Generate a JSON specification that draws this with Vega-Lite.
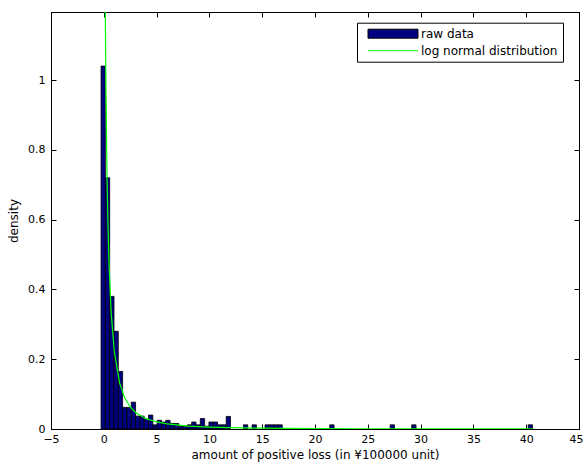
{
  "$schema": "https://vega.github.io/schema/vega-lite/v6.json",
  "width": 528,
  "height": 417,
  "autosize": "none",
  "padding": {"left": 51, "top": 12, "right": 5, "bottom": 38},
  "background": "white",
  "config": {
    "font": "DejaVu Sans",
    "view": {"stroke": "black", "strokeWidth": 1},
    "axis": {
      "grid": false,
      "domainColor": "black",
      "tickColor": "black",
      "tickSize": -5,
      "labelColor": "black",
      "labelFontSize": 11,
      "titleFontSize": 12,
      "titleFontWeight": "normal",
      "titleColor": "black",
      "labelFont": "DejaVu Sans",
      "titleFont": "DejaVu Sans"
    },
    "legend": {
      "orient": "none",
      "legendX": 306,
      "legendY": 10.7,
      "direction": "vertical",
      "padding": 5,
      "strokeColor": "black",
      "fillColor": "white",
      "rowPadding": 4,
      "symbolSize": 100,
      "symbolStrokeWidth": 1,
      "symbolOpacity": 1,
      "labelOffset": 47,
      "labelFontSize": 12,
      "labelColor": "black",
      "labelFont": "DejaVu Sans"
    }
  },
  "datasets": {
    "hist": [
      {"lo": -0.260, "hi": 0.149, "density": 1.04},
      {"lo": 0.149, "hi": 0.557, "density": 0.72},
      {"lo": 0.557, "hi": 0.966, "density": 0.38},
      {"lo": 0.966, "hi": 1.374, "density": 0.28},
      {"lo": 1.374, "hi": 1.783, "density": 0.165},
      {"lo": 1.783, "hi": 2.192, "density": 0.062},
      {"lo": 2.192, "hi": 2.600, "density": 0.062},
      {"lo": 2.600, "hi": 3.009, "density": 0.077},
      {"lo": 3.009, "hi": 3.418, "density": 0.037},
      {"lo": 3.418, "hi": 3.826, "density": 0.037},
      {"lo": 3.826, "hi": 4.235, "density": 0.028},
      {"lo": 4.235, "hi": 4.643, "density": 0.040},
      {"lo": 4.643, "hi": 5.052, "density": 0.012},
      {"lo": 5.052, "hi": 5.461, "density": 0.025},
      {"lo": 5.461, "hi": 5.869, "density": 0.020},
      {"lo": 5.869, "hi": 6.278, "density": 0.025},
      {"lo": 6.278, "hi": 6.686, "density": 0.016},
      {"lo": 6.686, "hi": 7.095, "density": 0.016},
      {"lo": 7.095, "hi": 7.504, "density": 0.008},
      {"lo": 7.504, "hi": 7.912, "density": 0.008},
      {"lo": 7.912, "hi": 8.321, "density": 0.012},
      {"lo": 8.321, "hi": 8.730, "density": 0.020},
      {"lo": 8.730, "hi": 9.138, "density": 0.012},
      {"lo": 9.138, "hi": 9.547, "density": 0.030},
      {"lo": 9.547, "hi": 9.955, "density": 0.008},
      {"lo": 9.955, "hi": 10.364, "density": 0.020},
      {"lo": 10.364, "hi": 10.773, "density": 0.020},
      {"lo": 10.773, "hi": 11.181, "density": 0.012},
      {"lo": 11.181, "hi": 11.590, "density": 0.012},
      {"lo": 11.590, "hi": 11.998, "density": 0.036},
      {"lo": 13.224, "hi": 13.633, "density": 0.012},
      {"lo": 14.041, "hi": 14.450, "density": 0.012},
      {"lo": 15.267, "hi": 15.675, "density": 0.012},
      {"lo": 15.675, "hi": 16.084, "density": 0.012},
      {"lo": 16.084, "hi": 16.493, "density": 0.012},
      {"lo": 16.493, "hi": 16.901, "density": 0.012},
      {"lo": 21.396, "hi": 21.804, "density": 0.012},
      {"lo": 27.116, "hi": 27.525, "density": 0.012},
      {"lo": 29.159, "hi": 29.568, "density": 0.012},
      {"lo": 40.191, "hi": 40.600, "density": 0.012}
    ],
    "fit": [
      {"x": 0.01, "pdf": 1.463},
      {"x": 0.02, "pdf": 1.759},
      {"x": 0.03, "pdf": 1.813},
      {"x": 0.05, "pdf": 1.738},
      {"x": 0.08, "pdf": 1.544},
      {"x": 0.1, "pdf": 1.421},
      {"x": 0.15, "pdf": 1.169},
      {"x": 0.2, "pdf": 0.984},
      {"x": 0.3, "pdf": 0.734},
      {"x": 0.4, "pdf": 0.577},
      {"x": 0.5, "pdf": 0.469},
      {"x": 0.7, "pdf": 0.332},
      {"x": 1.0, "pdf": 0.2205},
      {"x": 1.5, "pdf": 0.1314},
      {"x": 2.0, "pdf": 0.0879},
      {"x": 2.5, "pdf": 0.0631},
      {"x": 3.0, "pdf": 0.0475},
      {"x": 4.0, "pdf": 0.0296},
      {"x": 5.0, "pdf": 0.0202},
      {"x": 6.0, "pdf": 0.0145},
      {"x": 8.0, "pdf": 0.0085},
      {"x": 10.0, "pdf": 0.0055},
      {"x": 12.0, "pdf": 0.0038},
      {"x": 15.0, "pdf": 0.0024},
      {"x": 20.0, "pdf": 0.00125},
      {"x": 25.0, "pdf": 0.00075},
      {"x": 30.0, "pdf": 0.00049},
      {"x": 35.0, "pdf": 0.00034},
      {"x": 40.6, "pdf": 0.00023}
    ],
    "key": [
      {"series": "raw data"},
      {"series": "log normal distribution"}
    ]
  },
  "resolve": {"axis": {"x": "independent", "y": "independent"}},
  "layer": [
    {
      "data": {"name": "hist"},
      "mark": {"type": "bar", "fill": "#000080", "stroke": "black", "strokeWidth": 0.8, "clip": true},
      "encoding": {
        "x": {
          "field": "lo", "type": "quantitative",
          "scale": {"domain": [-5, 45], "nice": false, "zero": false},
          "axis": {
            "orient": "bottom",
            "values": [-5, 0, 5, 10, 15, 20, 25, 30, 35, 40, 45],
            "labelPadding": 9,
            "labelFlush": false,
            "labelOffset": {"condition": {"test": "datum.value === 45", "value": -3}, "value": 0},
            "title": "amount of positive loss (in ¥100000 unit)",
            "titlePadding": 5
          }
        },
        "x2": {"field": "hi"},
        "y": {
          "field": "density", "type": "quantitative",
          "scale": {"domain": [0, 1.195], "nice": false},
          "axis": {"orient": "left", "values": [0, 0.2, 0.4, 0.6, 0.8, 1], "format": "~g", "labelPadding": 11, "labelFlush": false, "title": "density", "titlePadding": 7}
        },
        "y2": {"datum": 0}
      }
    },
    {
      "data": {"name": "fit"},
      "mark": {"type": "line", "stroke": "#00ff00", "strokeWidth": 1.2, "clip": true},
      "encoding": {
        "x": {
          "field": "x", "type": "quantitative",
          "axis": {"orient": "top", "values": [-5, 0, 5, 10, 15, 20, 25, 30, 35, 40, 45], "labels": false, "title": null}
        },
        "y": {
          "field": "pdf", "type": "quantitative",
          "axis": {"orient": "right", "values": [0, 0.2, 0.4, 0.6, 0.8, 1], "labels": false, "title": null}
        }
      }
    },
    {
      "data": {"name": "key"},
      "mark": {"type": "point", "opacity": 0},
      "encoding": {
        "shape": {
          "field": "series", "type": "nominal",
          "scale": {"domain": ["raw data", "log normal distribution"], "range": ["M0,-0.9H10V0.9H0Z", "M0,0H10"]},
          "legend": {"title": null}
        },
        "fill": {
          "field": "series", "type": "nominal",
          "scale": {"domain": ["raw data", "log normal distribution"], "range": ["#000080", "transparent"]},
          "legend": {"title": null}
        },
        "stroke": {
          "field": "series", "type": "nominal",
          "scale": {"domain": ["raw data", "log normal distribution"], "range": ["black", "#00ff00"]},
          "legend": {"title": null}
        }
      }
    }
  ]
}
